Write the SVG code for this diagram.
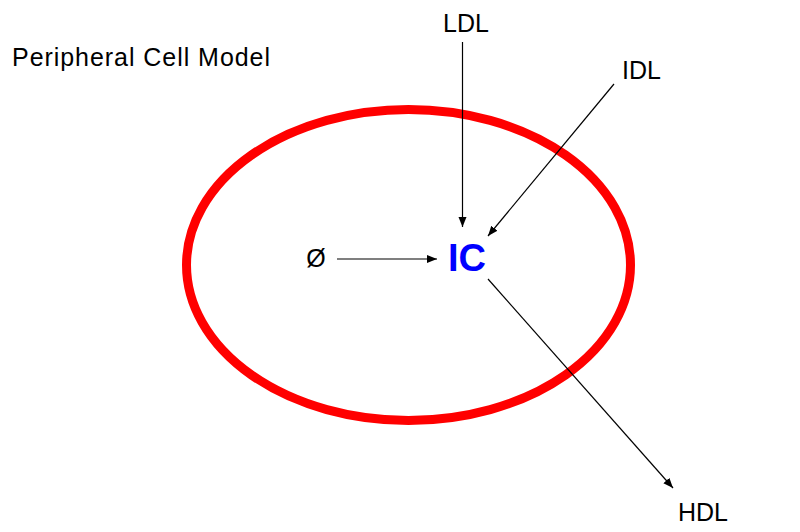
<svg xmlns="http://www.w3.org/2000/svg" width="800" height="532" viewBox="0 0 800 532">
<defs>
<marker id="ah" viewBox="0 0 10 10" refX="10" refY="5" markerWidth="10" markerHeight="10" markerUnits="userSpaceOnUse" orient="auto">
<path d="M0,1 L10,5 L0,9 Z" fill="#000"/>
</marker>
<style>
.lbl{font-family:"Liberation Sans",Arial,sans-serif;font-size:25px;fill:#000}
.conn line{stroke:#000;stroke-width:1.2;marker-end:url(#ah)}
</style>
</defs>
<rect width="800" height="532" fill="#fff"/>
<text class="lbl" x="12" y="66" textLength="258" lengthAdjust="spacing">Peripheral Cell Model</text>
<g id="cell">
<ellipse cx="408.5" cy="265" rx="222" ry="155.5" fill="none" stroke="#ff0000" stroke-width="9"/>
</g>
<g id="node-empty"><text class="lbl" x="316" y="267" text-anchor="middle">Ø</text></g>
<g id="node-IC"><text x="467" y="271" text-anchor="middle" style="font-family:'Liberation Sans',Arial,sans-serif;font-weight:bold;font-size:38px;fill:#0000ff">IC</text></g>
<g id="node-LDL"><text class="lbl" x="466" y="32" text-anchor="middle">LDL</text></g>
<g id="node-IDL"><text class="lbl" x="641.5" y="79" text-anchor="middle">IDL</text></g>
<g id="node-HDL"><text class="lbl" x="703" y="521" text-anchor="middle">HDL</text></g>
<g id="connectors" class="conn">
<line x1="337" y1="259" x2="437" y2="259"/>
<line x1="462.5" y1="42" x2="462.5" y2="227"/>
<line x1="614" y1="84" x2="488" y2="236"/>
<line x1="488" y1="279" x2="673" y2="488"/>
</g>
</svg>
